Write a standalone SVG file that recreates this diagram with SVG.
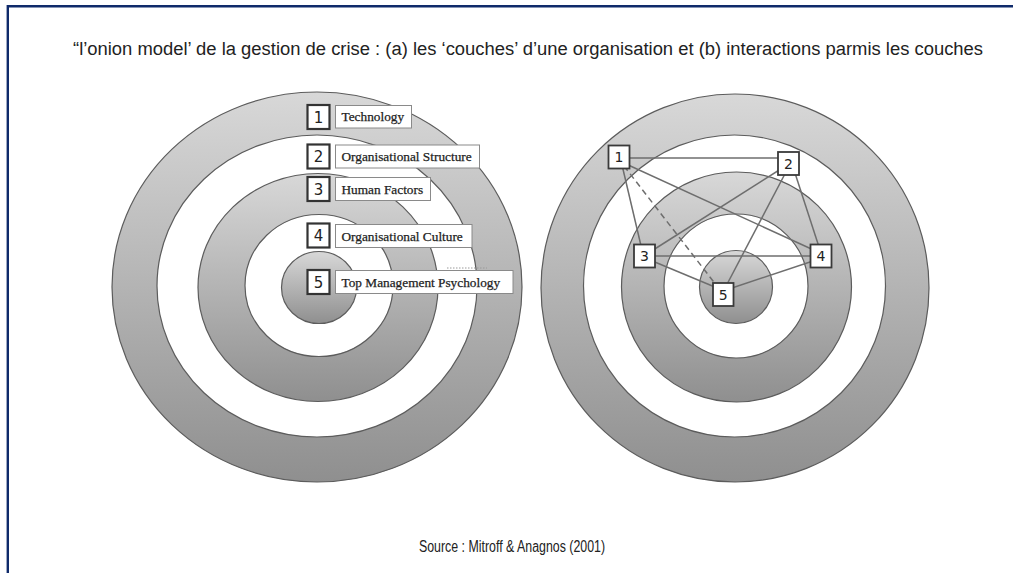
<svg xmlns="http://www.w3.org/2000/svg" width="1013" height="573" viewBox="0 0 1013 573">
<style>
.ring{stroke:#5c5c5c;stroke-width:1.2;fill:url(#g)}
.hole{stroke:#5c5c5c;stroke-width:1.2;fill:#fff}
.nb{fill:#fff;stroke:#333;stroke-width:2.2}
.nbr{fill:#fff;stroke:#3a3a3a;stroke-width:1.8}
.lb{fill:#fff;stroke:#8a8a8a;stroke-width:1}
.num{font-family:"DejaVu Sans","Liberation Sans",sans-serif;font-size:15px;fill:#222;text-anchor:middle}
.numr{font-family:"DejaVu Sans","Liberation Sans",sans-serif;font-size:14px;fill:#222;text-anchor:middle}
.lt{font-family:"Liberation Serif","Times New Roman",serif;font-size:13.3px;fill:#222;stroke:#222;stroke-width:0.25}
.cap{font-family:"Liberation Sans",Arial,sans-serif;fill:#222;text-anchor:middle}
.cn{stroke:#6e6e6e;stroke-width:1.5;fill:none}
</style>
<defs>
<linearGradient id="g" x1="0" y1="0" x2="0" y2="1">
<stop offset="0" stop-color="#d8d8d8"/>
<stop offset="1" stop-color="#8f8f8f"/>
</linearGradient>
</defs>
<rect width="1013" height="573" fill="#fff"/>
<path d="M7.8 573 V6.2 H1013" fill="none" stroke="#0f2a6a" stroke-width="2.4"/>
<text class="cap" x="528" y="55" font-size="18" textLength="910" lengthAdjust="spacingAndGlyphs">“l’onion model’ de la gestion de crise : (a) les ‘couches’ d’une organisation et (b) interactions parmis les couches</text>
<text class="cap" x="512" y="552" font-size="16" textLength="186" lengthAdjust="spacingAndGlyphs">Source : Mitroff &amp; Anagnos (2001)</text>

<g id="onion-a">
<ellipse class="ring" cx="317" cy="287" rx="205" ry="195"/>
<ellipse class="hole" cx="317" cy="286" rx="160" ry="151"/>
<ellipse class="ring" cx="318" cy="287.5" rx="120" ry="114"/>
<ellipse class="hole" cx="319" cy="285.5" rx="74" ry="71"/>
<ellipse class="ring" cx="319" cy="287.5" rx="37.5" ry="36"/>
<line x1="447" y1="268" x2="487" y2="268" stroke="#9a9a9a" stroke-width="1" stroke-dasharray="1.5 1.5"/>
</g>

<g id="onion-b">
<circle class="ring" cx="735" cy="288" r="194"/>
<circle class="hole" cx="734.5" cy="286" r="151"/>
<circle class="ring" cx="736.5" cy="287" r="115"/>
<circle class="hole" cx="736" cy="286" r="72"/>
<circle class="ring" cx="736" cy="287" r="36.5"/>
</g>

<g id="a1"><rect class="nb" x="307.5" y="105" width="22" height="24"/><text class="num" x="318.5" y="122.5">1</text><rect class="lb" x="335.5" y="105.5" width="76" height="22.5"/><text class="lt" x="341.5" y="121">Technology</text></g>
<g id="a2"><rect class="nb" x="307.5" y="144.5" width="22" height="24"/><text class="num" x="318.5" y="162">2</text><rect class="lb" x="335.5" y="145" width="144" height="23"/><text class="lt" x="341.5" y="161">Organisational Structure</text></g>
<g id="a3"><rect class="nb" x="307.5" y="177" width="22" height="24"/><text class="num" x="318.5" y="194.5">3</text><rect class="lb" x="335.5" y="177.5" width="95" height="23"/><text class="lt" x="341.5" y="193.5">Human Factors</text></g>
<g id="a4"><rect class="nb" x="307.5" y="223.5" width="22" height="24"/><text class="num" x="318.5" y="241">4</text><rect class="lb" x="335.5" y="224.5" width="136.5" height="23"/><text class="lt" x="341.5" y="240.5">Organisational Culture</text></g>
<g id="a5"><rect class="nb" x="307.5" y="270" width="22" height="24"/><text class="num" x="318.5" y="287.5">5</text><rect class="lb" x="335.5" y="270.5" width="177.5" height="23"/><text class="lt" x="341.5" y="286.5">Top Management Psychology</text></g>

<g id="connectors">
<line class="cn" x1="620" y1="158" x2="788" y2="158"/>
<line class="cn" x1="622" y1="165" x2="642" y2="250"/>
<line class="cn" x1="624" y1="166" x2="720" y2="290" stroke-dasharray="6 4"/>
<line class="cn" x1="626" y1="164" x2="818" y2="252"/>
<line class="cn" x1="784" y1="167" x2="650" y2="252"/>
<line class="cn" x1="787" y1="170" x2="724" y2="290"/>
<line class="cn" x1="794" y1="170" x2="820" y2="250"/>
<line class="cn" x1="650" y1="256" x2="816" y2="256"/>
<line class="cn" x1="650" y1="260" x2="722" y2="290"/>
<line class="cn" x1="816" y1="260" x2="726" y2="290"/>
</g>

<g id="b1"><rect class="nbr" x="608.5" y="145.5" width="21" height="23"/><text class="numr" x="619" y="162">1</text></g>
<g id="b2"><rect class="nbr" x="778" y="152" width="21" height="23"/><text class="numr" x="788.5" y="168.5">2</text></g>
<g id="b3"><rect class="nbr" x="634" y="244.5" width="21" height="23"/><text class="numr" x="644.5" y="261">3</text></g>
<g id="b4"><rect class="nbr" x="810.5" y="244.5" width="21" height="23"/><text class="numr" x="821" y="261">4</text></g>
<g id="b5"><rect class="nbr" x="713" y="283" width="20.5" height="23"/><text class="numr" x="723.3" y="299.5">5</text></g>
</svg>
